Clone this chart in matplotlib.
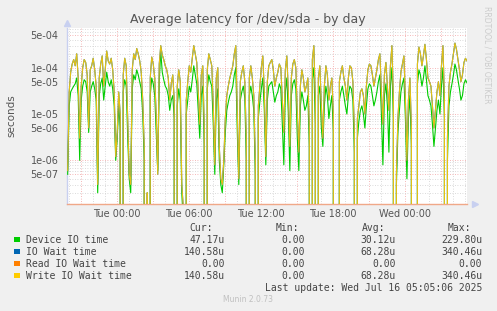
import numpy as np
import matplotlib
matplotlib.use("Agg")
from matplotlib import pyplot as plt
from matplotlib.patches import Rectangle

# time axis: hours from Tue 00:00, one sample every 7.5 minutes
t_start = -4.0833
t_step = 0.125

# latency samples in microseconds
device_io = [0.5, 15, 30, 35, 40, 45, 60, 25, 1, 20, 40, 55, 50, 30, 4, 30, 40, 50, 35, 20, 0.2, 25, 45, 60,
             20, 40, 80, 50, 40, 55, 35, 15, 1, 3, 15, 5, 0, 30, 55, 40, 3, 0.4, 0.2, 35, 70, 55, 90, 70,
             50, 35, 10, 1, 0, 0.1, 0, 25, 60, 45, 25, 4, 0.6, 50, 230, 80, 55, 40, 35, 25, 12,
             20, 25, 8, 0, 15, 35, 20, 0.2, 0.05, 0, 10, 20, 40, 30, 55, 110, 70, 45, 12, 3, 25, 40,
             2, 0, 35, 70, 50, 40, 6, 0.5, 20, 35, 1, 0.3, 0.2, 0.8, 4, 12, 18, 25, 30, 40, 70, 100,
             4, 0.3, 20, 30, 40, 22, 1, 0, 25, 40, 25, 12, 0.5, 0, 8, 18, 35, 60, 12, 0.8, 20, 40,
             45, 50, 30, 18, 25, 30, 45, 35, 6, 0.8, 30, 60, 10, 0.6, 25, 45, 55, 35, 3, 0.6, 15, 30,
             20, 12, 15, 25, 2, 0, 55, 100, 6, 0, 25, 40, 5, 2, 15, 40, 25, 8, 15, 25, 4, 0, 0.05, 0,
             20, 30, 40, 25, 15, 10, 25, 40, 35, 20, 1.5, 0, 3, 7, 12, 15, 10, 5, 15, 35,
             45, 40, 25, 15, 20, 30, 50, 70, 10, 0.8, 25, 45, 15, 1.5, 40, 100, 8, 0, 0.3, 4, 12, 30,
             45, 60, 8, 0.4, 8, 25, 2, 0, 0.05, 0, 45, 90, 70, 40, 60, 110, 55, 25, 20, 15, 6, 2,
             5, 12, 20, 10, 40, 100, 8, 0, 1, 15, 30, 45, 70, 120, 90, 55, 35, 20, 25, 45, 55, 47]
write_wait = [0.6, 30, 80, 120, 150, 110, 200, 60, 3, 40, 100, 150, 130, 70, 5, 90, 110, 160, 90, 40, 0.3, 60,
              120, 180, 40, 90, 230, 140, 120, 160, 90, 30, 1.2, 4, 30, 10, 0, 70, 160, 110, 8, 0.5, 0.3, 90,
              200, 150, 260, 200, 140, 80, 20, 2, 0, 0.2, 0, 60, 170, 120, 60, 9, 0.5, 120, 300, 190, 150,
              110, 90, 60, 20,
              45, 70, 20, 0, 40, 90, 50, 0.3, 0.1, 0, 20, 50, 110, 80, 160, 300, 200, 130, 30, 6, 70, 110,
              5, 0, 90, 200, 150, 110, 15, 0.8, 60, 100, 2, 0.4, 0.3, 1, 8, 25, 40, 60, 80, 110, 200, 300,
              10, 0.4, 50, 80, 110, 50, 3, 0, 60, 110, 60, 25, 1, 0, 15, 40, 100, 180, 30, 1.2, 50, 110,
              130, 150, 90, 40, 60, 80, 120, 100, 20, 4, 90, 180, 30, 2, 60, 120, 150, 100, 10, 1.5, 40, 90,
              60, 30, 40, 60, 5, 0, 150, 300, 20, 0, 60, 110, 15, 3, 40, 110, 70, 20, 40, 60, 10, 0, 0.1, 0,
              50, 80, 110, 60, 40, 20, 60, 110, 100, 50, 4, 0, 8, 15, 30, 35, 25, 10, 40, 90,
              120, 110, 70, 40, 60, 90, 150, 200, 30, 6, 70, 130, 40, 12, 110, 300, 20, 0, 0.5, 8, 30, 80,
              120, 180, 20, 1, 20, 60, 5, 0, 0.1, 0, 120, 280, 200, 110, 180, 320, 150, 60, 50, 40, 15, 5,
              12, 30, 50, 25, 110, 300, 20, 0, 3, 40, 80, 120, 200, 340, 250, 150, 90, 50, 70, 130, 160, 140]
io_wait = list(write_wait)
read_wait = [0] * len(write_wait)

series_names = ["Device IO time", "IO Wait time", "Read IO Wait time", "Write IO Wait time"]
series_colors = ["#00cc00", "#0066b3", "#ff8000", "#ffcc00"]
cur_vals = ["47.17u", "140.58u", "0.00", "140.58u"]
min_vals = ["0.00", "0.00", "0.00", "0.00"]
avg_vals = ["30.12u", "68.28u", "0.00", "68.28u"]
max_vals = ["229.80u", "340.46u", "0.00", "340.46u"]

xtick_pos = [0, 6, 12, 18, 24]
xtick_labels = ["Tue 00:00", "Tue 06:00", "Tue 12:00", "Tue 18:00", "Wed 00:00"]
ytick_pos = [5e-4, 1e-4, 5e-5, 1e-5, 5e-6, 1e-6, 5e-7]
ytick_labels = ["5e-04", "1e-04", "5e-05", "1e-05", "5e-06", "1e-06", "5e-07"]

W, H = 497, 311
fig = plt.figure(figsize=(W / 100, H / 100), dpi=100, facecolor="#f0f0f0")
ax = fig.add_axes([67 / W, 1 - 203.5 / H, 400 / W, 175.5 / H])
ax.set_facecolor("white")

t = t_start + t_step * np.arange(len(write_wait))
ax.set_yscale("log", nonpositive="clip")
ax.set_xlim(-4.14, 29.17)
ax.set_ylim(1.17e-7, 7.2e-4)

# grid
for h in range(-4, 30):
    major = (h % 3 == 0)
    ax.axvline(h, color="#f2a0a0" if major else "#cfcfcf", lw=0.6, ls=(0, (1, 2)), zorder=1)
for e in range(-7, -3):
    for m in range(1, 10):
        v = m * 10.0 ** e
        major = m in (1, 5)
        ax.axhline(v, color="#f2a0a0" if major else "#cfcfcf", lw=0.6, ls=(0, (1, 2)), zorder=1)

ax.plot(t, np.array(device_io) * 1e-6, color=series_colors[0], lw=0.8, zorder=3)
ax.plot(t, np.array(io_wait) * 1e-6, color=series_colors[1], lw=0.8, zorder=4)
ax.plot(t, np.array(read_wait) * 1e-6, color=series_colors[2], lw=0.8, zorder=5)
ax.plot(t, np.array(write_wait) * 1e-6, color=series_colors[3], lw=0.8, zorder=6, alpha=0.9)

ax.set_xticks(xtick_pos)
ax.set_xticklabels(xtick_labels)
ax.set_yticks(ytick_pos)
ax.set_yticklabels(ytick_labels)
ax.yaxis.set_minor_locator(matplotlib.ticker.NullLocator())
ax.tick_params(axis="both", length=0, labelsize=7, colors="#555555")
ax.tick_params(axis="x", pad=4)
ax.tick_params(axis="y", pad=6)
for s in ["top", "right"]:
    ax.spines[s].set_visible(False)
ax.spines["left"].set_color("#c8d0f0")
ax.spines["bottom"].set_color("#f0a888")
ax.spines["left"].set_linewidth(1)
ax.spines["bottom"].set_linewidth(1)
ax.plot([0], [1.03], marker="^", color="#c8d0f0", ms=4, transform=ax.transAxes, clip_on=False)
ax.plot([1.02], [0], marker=">", color="#c8d0f0", ms=4, transform=ax.transAxes, clip_on=False)


def fx(px):
    return px / W


def fy(py):
    return 1 - py / H


fig.text(fx(248), fy(19), "Average latency for /dev/sda - by day", ha="center", va="center",
         fontsize=9, color="#555555")
fig.text(fx(11), fy(116), "seconds", rotation=90, ha="center", va="center", fontsize=7.5, color="#555555")
fig.text(fx(487), fy(55), "RRDTOOL / TOBI OETIKER", rotation=270, ha="center", va="center",
         fontsize=5.5, color="#cccccc")

mono = dict(family="DejaVu Sans Mono", fontsize=7, color="#444444", va="center")
fig.text(fx(213), fy(228), "Cur:", ha="right", **mono)
fig.text(fx(299), fy(228), "Min:", ha="right", **mono)
fig.text(fx(385), fy(228), "Avg:", ha="right", **mono)
fig.text(fx(471), fy(228), "Max:", ha="right", **mono)
for i, name in enumerate(series_names):
    y = 239.7 + 12 * i
    fig.patches.append(Rectangle((fx(14), fy(y + 2.7)), 5.5 / W, 5.5 / H, transform=fig.transFigure,
                                 facecolor=series_colors[i], edgecolor="none"))
    fig.text(fx(26), fy(y), name, ha="left", **mono)
    fig.text(fx(225), fy(y), cur_vals[i], ha="right", **mono)
    fig.text(fx(305), fy(y), min_vals[i], ha="right", **mono)
    fig.text(fx(396), fy(y), avg_vals[i], ha="right", **mono)
    fig.text(fx(482), fy(y), max_vals[i], ha="right", **mono)
fig.text(fx(482), fy(287.7), "Last update: Wed Jul 16 05:05:06 2025", ha="right", **mono)
fig.text(fx(248), fy(300), "Munin 2.0.73", ha="center", va="center", fontsize=5.5, color="#c0c0c0")

fig.savefig("out.png", dpi=100, facecolor=fig.get_facecolor())
